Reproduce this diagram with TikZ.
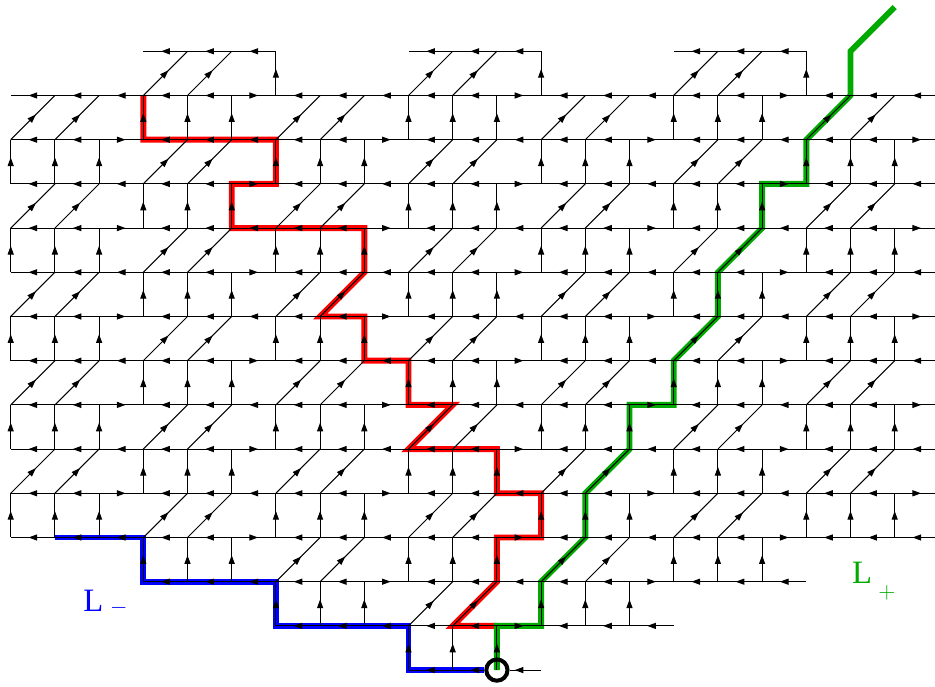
\documentclass[tikz,border=0pt]{standalone}
\usepackage{fontspec}
\setmainfont{Liberation Serif}
\usetikzlibrary{arrows.meta,decorations.markings}
\definecolor{pathred}{RGB}{255,0,0}
\definecolor{pathgreen}{RGB}{0,170,0}
\definecolor{pathblue}{RGB}{0,0,255}
\tikzset{
  latedge/.style={line width=0.65pt},
  arr/.style={latedge, postaction={decorate},
    decoration={markings, mark=at position #1 with {\arrow[xshift=2.8pt]{Triangle[length=5.6pt,width=3.9pt]}}}},
  arr/.default=0.5,
  hilite/.style={line width=3.8pt},
  origin/.style={circle, draw, line width=2.6pt, inner sep=0pt, minimum size=0.48cm},
  lab/.style={anchor=base west, inner sep=0pt, font=\fontsize{21}{24}\selectfont}
}
% horizontal edge i -> i+1 on row j
\newcommand\lathedge[2]{%
  \pgfmathtruncatemacro{\hn}{#1+1}%
  \pgfmathtruncatemacro{\hk}{mod(#1,6)+6*mod(#2,2)}%
  \ifnum\hk=2 \def\hdir{1}\else\ifnum\hk=11 \def\hdir{1}\else\def\hdir{0}\fi\fi
  \ifnum\hdir=1 \draw[arr] (v-#1-#2) -- (v-\hn-#2);\else\draw[arr] (v-\hn-#2) -- (v-#1-#2);\fi}
% vertical or diagonal edge at column i in band b (between row b and b+1)
\newcommand\latband[2]{%
  \pgfmathtruncatemacro{\bb}{#2+1}%
  \pgfmathtruncatemacro{\bn}{#1+1}%
  \pgfmathtruncatemacro{\br}{mod(#1,6)+6*mod(#2,2)}%
  \ifcase\br
    \draw[arr] (v-#1-\bb) -- (v-#1-#2);\or
    \draw[arr] (v-#1-\bb) -- (v-#1-#2);\or
    \draw[arr] (v-#1-\bb) -- (v-#1-#2);\or
    \draw[arr] (v-#1-\bb) -- (v-\bn-#2);\or
    \draw[arr] (v-#1-\bb) -- (v-\bn-#2);\or
    \relax\or
    \draw[arr] (v-#1-\bb) -- (v-\bn-#2);\or
    \draw[arr] (v-#1-\bb) -- (v-\bn-#2);\or
    \relax\or
    \draw[arr] (v-#1-\bb) -- (v-#1-#2);\or
    \draw[arr] (v-#1-\bb) -- (v-#1-#2);\or
    \draw[arr] (v-#1-\bb) -- (v-#1-#2);\fi}
\begin{document}
\begin{tikzpicture}
\clip (-0.2421,1.1606) rectangle (20.912,-14.360);
\foreach \i in {0,...,21}{\foreach \j in {0,...,14}{\coordinate (v-\i-\j) at (\i,-\j);}}
\coordinate (gend) at (20,1);
\node[origin, draw=none] (o) at (v-11-14) {};
% highlighted paths
\draw[hilite, pathred] (v-3-1) -- (v-3-2) -- (v-6-2) -- (v-6-3) -- (v-5-3) -- (v-5-4) -- (v-8-4) -- (v-8-5) -- (v-7-6) -- (v-8-6) -- (v-8-7) -- (v-9-7) -- (v-9-8) -- (v-10-8) -- (v-9-9) -- (v-11-9) -- (v-11-10) -- (v-12-10) -- (v-12-11) -- (v-11-11) -- (v-11-12) -- (v-10-13) -- (v-11-13);
\draw[hilite, pathgreen] (v-11-14) -- (v-11-13) -- (v-12-13) -- (v-12-12) -- (v-13-11) -- (v-13-10) -- (v-14-9) -- (v-14-8) -- (v-15-8) -- (v-15-7) -- (v-16-6) -- (v-16-5) -- (v-17-4) -- (v-17-3) -- (v-18-3) -- (v-18-2) -- (v-19-1) -- (v-19-0) -- (gend);
\draw[hilite, pathblue] (v-1-11) -- (v-3-11) -- (v-3-12) -- (v-6-12) -- (v-6-13) -- (v-9-13) -- (v-9-14) -- (o);
% lattice: horizontal edges
\foreach \i in {3,4,5,9,10,11,15,16,17} {\lathedge{\i}{0}}
\foreach \j in {1,...,11} {\foreach \i in {0,...,20} {\lathedge{\i}{\j}}}
\foreach \i in {3,...,17} {\lathedge{\i}{12}}
\foreach \i in {6,...,14} {\lathedge{\i}{13}}
\lathedge{9}{14}
\draw[arr=0.3] (o) -- (v-10-14);
\draw[arr=0.7] (v-12-14) -- (o);
% lattice: vertical and diagonal edges
\foreach \i in {3,4,6,9,10,12,15,16,18} {\latband{\i}{0}}
\foreach \b in {1,...,10} {\foreach \i in {0,...,20} {\latband{\i}{\b}}}
\foreach \i in {3,4,5,6,7,9,10,11,12,13,15,16,17} {\latband{\i}{11}}
\foreach \i in {6,7,8,9,10,12,13,14} {\latband{\i}{12}}
\foreach \i in {9,10,11} {\latband{\i}{13}}
\node[origin] (ring) at (o) {};
\node[lab, text=pathblue] (Lminus) at (1.636,-12.685) {L\hspace{4.5pt}\raisebox{-1.2pt}{\fontsize{14}{14}\selectfont$-$}};
\node[lab, text=pathgreen] (Lplus) at (19.03,-12.05) {L\hspace{4pt}\raisebox{-9.4pt}{\fontsize{14}{14}\selectfont$+$}};
\end{tikzpicture}
\end{document}
